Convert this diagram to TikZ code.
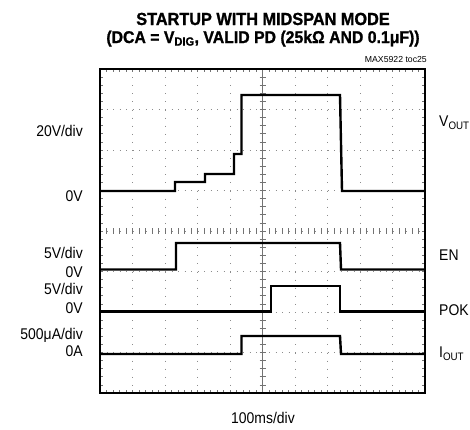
\documentclass[tikz,border=0pt]{standalone}
\usepackage{fontspec}
\setmainfont{Liberation Sans}
\newfontfamily\titlefont{Liberation Sans}[FakeStretch=0.93,FakeBold=1.2]
\newfontfamily\labelfont{Liberation Sans}[FakeStretch=0.9]
\begin{document}
\begin{tikzpicture}[x=1pt,y=-1pt,
  scopetrace/.style={line width=2.4pt,line join=miter},
  divdots/.style={black!45,line width=0.9pt},
  axtick/.style={black!55,line width=0.8pt},
  txt/.style={inner sep=0pt,font=\labelfont\fontsize{15.5}{18}\selectfont},
  titletext/.style={inner sep=0pt,font=\titlefont\bfseries\fontsize{17.5}{20}\selectfont}]
\useasboundingbox (0,0) rectangle (470,429);
% graticule
\foreach \i in {1,...,9}
  \draw[divdots,dash pattern=on 1pt off 7.1pt] (100+32.5*\i,69) -- (100+32.5*\i,393);
\foreach \j in {1,...,7}
  \draw[divdots,dash pattern=on 1pt off 5.5pt] (100,69+40.5*\j) -- (425,69+40.5*\j);
\draw[axtick] (262.5,69) -- (262.5,393);
\foreach \k in {1,...,49} {
  \draw[axtick] (100+6.5*\k,228) -- (100+6.5*\k,234);
  \draw[axtick] (100+6.5*\k,69) -- (100+6.5*\k,72);
  \draw[axtick] (100+6.5*\k,393) -- (100+6.5*\k,390);
}
\foreach \k in {1,...,39} {
  \draw[axtick] (259.5,69+8.1*\k) -- (265.5,69+8.1*\k);
  \draw[axtick] (100,69+8.1*\k) -- (103,69+8.1*\k);
  \draw[axtick] (425,69+8.1*\k) -- (422,69+8.1*\k);
}
% traces
\draw[scopetrace] (100,191) -- (175,191) -- (175,182) -- (205,182) -- (205,174) -- (234,174)
  -- (234,154) -- (241.5,154) -- (241.5,95) -- (340,95) -- (342,191) -- (425,191);
\draw[scopetrace] (100,269.5) -- (176,269.5) -- (176,243) -- (340,243) -- (341,269.5) -- (425,269.5);
\draw[scopetrace] (100,311.5) -- (271,311.5) -- (271,286) -- (340,286) -- (340,311.5) -- (425,311.5);
\draw[scopetrace] (100,354) -- (241.5,354) -- (241.5,336) -- (340,336) -- (341,354) -- (425,354);
\draw[line width=2pt] (100,69) rectangle (425,393);
% texts
\node[titletext,anchor=base] (ttl1) at (263,25) {STARTUP WITH MIDSPAN MODE};
\node[titletext,anchor=base,font=\titlefont\bfseries\fontsize{17}{20}\selectfont] (ttl2) at (263,43) {(DCA = V\textsubscript{DIG}, VALID PD (25kΩ AND 0.1μF))};
\node[inner sep=0pt,anchor=base east,font=\fontsize{8.7}{10}\selectfont] (toc) at (427,62.5) {MAX5922 toc25};
\node[txt,anchor=base east] (vdiv) at (83,136) {20V/div};
\node[txt,anchor=base east] (vzero) at (83,201.5) {0V};
\node[txt,anchor=base east] (endiv) at (83,258) {5V/div};
\node[txt,anchor=base east] (enzero) at (83,277.5) {0V};
\node[txt,anchor=base east] (pokdiv) at (83,294) {5V/div};
\node[txt,anchor=base east] (pokzero) at (83,313) {0V};
\node[txt,anchor=base east] (idiv) at (83,339) {500μA/div};
\node[txt,anchor=base east] (izero) at (83,356.5) {0A};
\node[txt,anchor=base west] (vout) at (439,126.5) {V\textsubscript{OUT}};
\node[txt,anchor=base west] (en) at (439,260.5) {EN};
\node[txt,anchor=base west] (pok) at (439,315) {POK};
\node[txt,anchor=base west] (iout) at (439,357.5) {I\textsubscript{OUT}};
\node[txt,anchor=base] (tdiv) at (263,423) {100ms/div};
\end{tikzpicture}
\end{document}
